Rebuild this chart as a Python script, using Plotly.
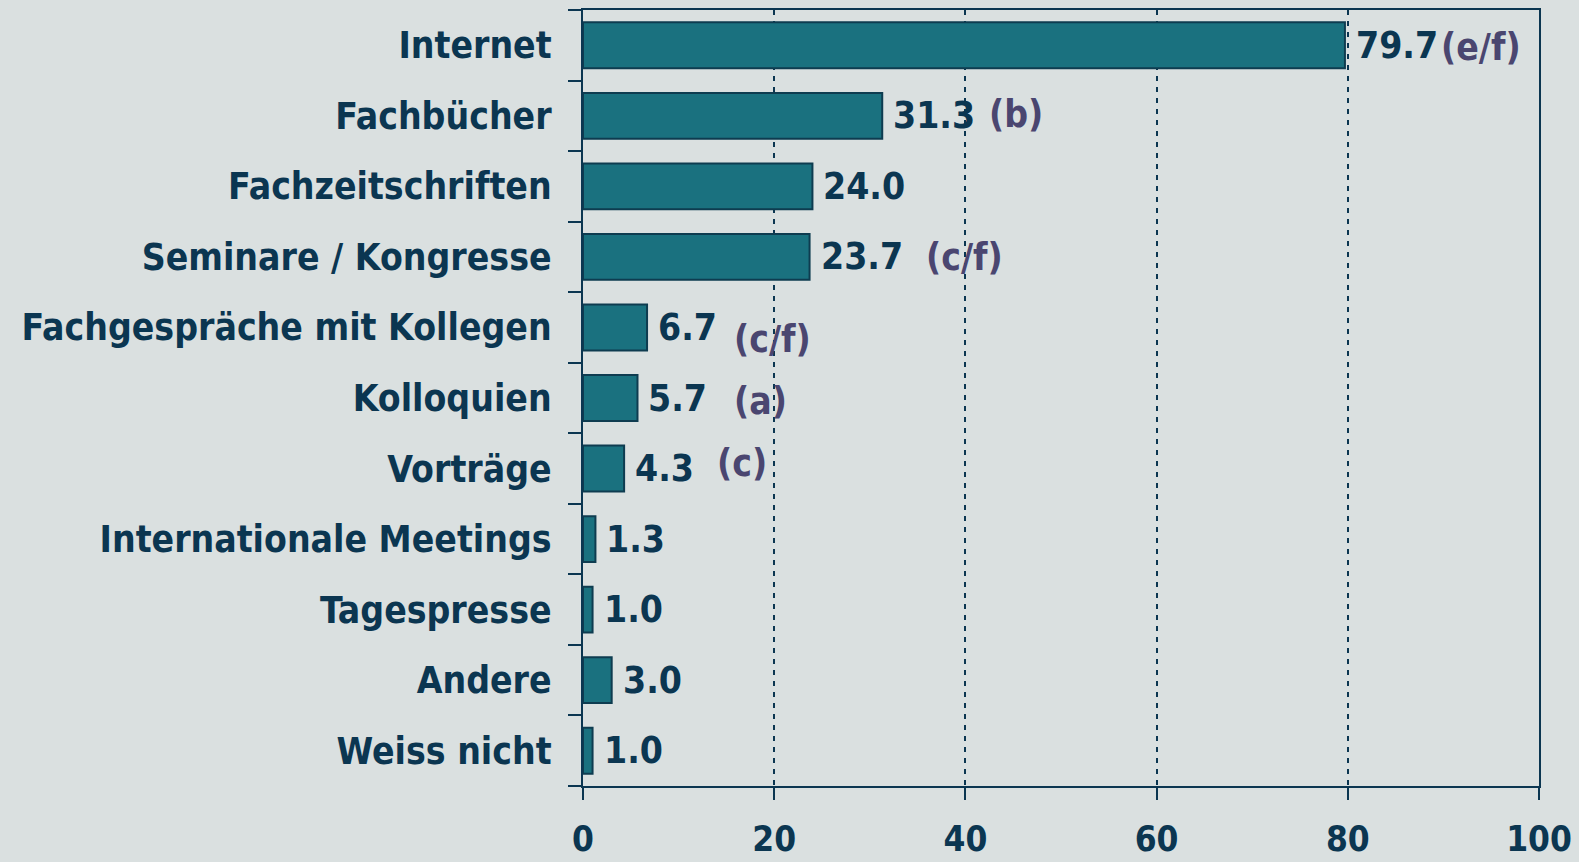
import plotly.graph_objects as go

# data
categories = ["Internet", "Fachbücher", "Fachzeitschriften", "Seminare / Kongresse",
              "Fachgespräche mit Kollegen", "Kolloquien", "Vorträge",
              "Internationale Meetings", "Tagespresse", "Andere", "Weiss nicht"]
values = [79.7, 31.3, 24.0, 23.7, 6.7, 5.7, 4.3, 1.3, 1.0, 3.0, 1.0]
notes = ["(e/f)", "(b)", "", "(c/f)", "(c/f)", "(a)", "(c)", "", "", "", ""]
x_ticks = [0, 20, 40, 60, 80, 100]

# styling
bg = "#DAE0E0"
navy = "#0B3651"
purple = "#4A4670"
font_family = "DejaVu Sans Condensed, DejaVu Sans, sans-serif"
font_size = 37

# offsets for the note labels (pixels right of bar end / vertical nudge)
note_dx = [94, 105, 0, 114, 85, 95, 91, 0, 0, 0, 0]
note_dy = [-2, 1, 0, -1, -12, -3, 5, 0, 0, 0, 0]

fig = go.Figure()
fig.add_trace(go.Bar(
    x=values,
    y=categories,
    orientation="h",
    width=0.65,
    marker=dict(color="#1A717F", line=dict(color="#0E3C50", width=2)),
    hoverinfo="x+y",
))

# value labels
for cat, val in zip(categories, values):
    fig.add_annotation(x=val, y=cat, text="<b>%.1f</b>" % val, showarrow=False,
                       xanchor="left", xshift=9,
                       font=dict(family=font_family, size=font_size, color=navy))

# footnote letters
for cat, val, note, dx, dy in zip(categories, values, notes, note_dx, note_dy):
    if note:
        fig.add_annotation(x=val, y=cat, text="<b>" + note + "</b>", showarrow=False,
                           xanchor="left", xshift=dx, yshift=dy,
                           font=dict(family=font_family, size=font_size, color=purple))

fig.update_layout(
    width=1579, height=862,
    paper_bgcolor=bg, plot_bgcolor=bg,
    margin=dict(l=583, r=40, t=10, b=76, autoexpand=False),
    showlegend=False,
    font=dict(family=font_family, size=font_size, color=navy),
    xaxis=dict(
        range=[0, 100], tickvals=x_ticks,
        ticktext=["<b>%d</b>" % t for t in x_ticks],
        tickfont=dict(size=35),
        showgrid=True, gridcolor=navy, gridwidth=2, griddash="5px,6px",
        showline=True, linecolor=navy, linewidth=2, mirror=True,
        ticks="outside", ticklen=12, tickwidth=2, tickcolor=navy,
        ticklabelstandoff=9, zeroline=False, automargin=False,
    ),
    yaxis=dict(
        autorange="reversed",
        tickvals=categories,
        ticktext=["<b>" + c + "</b>" for c in categories],
        tickson="boundaries",
        showline=True, linecolor=navy, linewidth=2, mirror=True,
        ticks="outside", ticklen=13, tickwidth=2, tickcolor=navy,
        ticklabelstandoff=22, showgrid=False, automargin=False,
    ),
)

fig.write_html("out.html", config={"displayModeBar": False},
               post_script="document.body.style.margin='0';")
